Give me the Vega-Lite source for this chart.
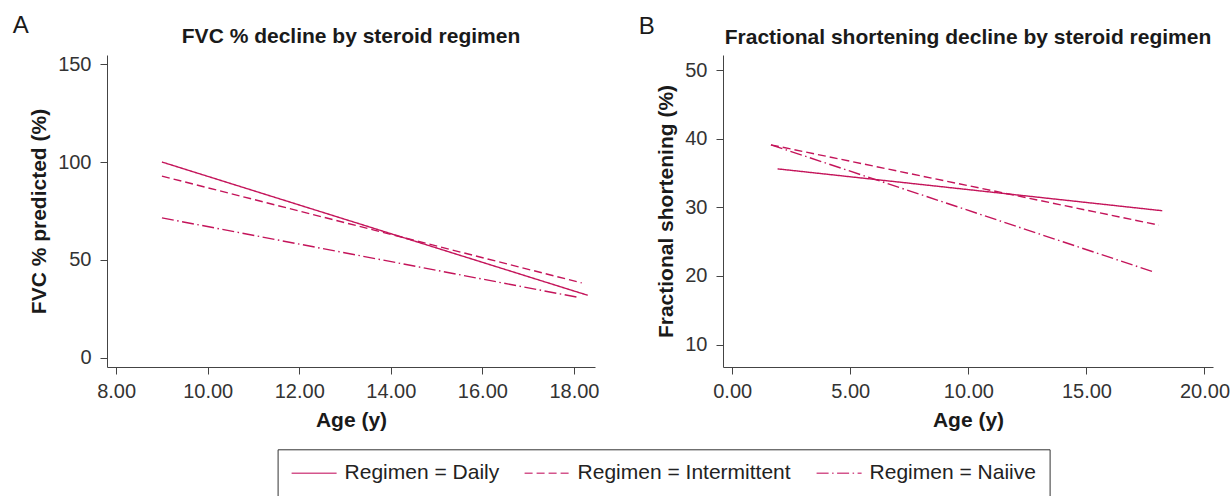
{
  "$schema": "https://vega.github.io/schema/vega-lite/v6.json",
  "background": "white",
  "padding": {"left": 12, "top": 14, "right": 0, "bottom": 0},
  "config": {
    "view": {"stroke": null},
    "font": "Liberation Sans",
    "axis": {
      "labelFont": "Liberation Sans", "labelFontSize": 20, "labelColor": "#333333",
      "titleFont": "Liberation Sans", "titleFontSize": 21, "titleFontWeight": "bold", "titleColor": "#1a1a1a",
      "domainColor": "#444444", "tickColor": "#444444", "tickSize": 7, "labelPadding": 9,
      "grid": false, "labelFlush": false, "labelOverlap": false, "titlePadding": 8
    },
    "axisX": {"titlePadding": 8, "labelPadding": 7},
    "title": {"font": "Liberation Sans", "color": "#1a1a1a"},
    "line": {"color": "#c4145a", "strokeWidth": 1.4}
  },
  "datasets": {
    "fvc": [
      {"age": 9.0, "value": 100.0, "regimen": "Daily"},
      {"age": 18.3, "value": 32.0, "regimen": "Daily"},
      {"age": 9.0, "value": 92.8, "regimen": "Intermittent"},
      {"age": 18.17, "value": 38.3, "regimen": "Intermittent"},
      {"age": 9.0, "value": 71.5, "regimen": "Naiive"},
      {"age": 18.12, "value": 30.8, "regimen": "Naiive"}
    ],
    "fs": [
      {"age": 1.92, "value": 35.6, "regimen": "Daily"},
      {"age": 18.21, "value": 29.5, "regimen": "Daily"},
      {"age": 1.64, "value": 39.1, "regimen": "Intermittent"},
      {"age": 18.07, "value": 27.4, "regimen": "Intermittent"},
      {"age": 1.64, "value": 39.1, "regimen": "Naiive"},
      {"age": 17.83, "value": 20.6, "regimen": "Naiive"}
    ]
  },
  "resolve": {"scale": {"strokeDash": "shared"}, "legend": {"strokeDash": "shared"}},
  "spacing": 39,
  "hconcat": [
    {
      "title": {"text": "A", "anchor": "start", "frame": "bounds", "fontSize": 24, "fontWeight": "normal", "dx": -16, "offset": -12},
      "resolve": {"scale": {"strokeDash": "shared"}, "legend": {"strokeDash": "shared"}},
      "vconcat": [
        {
          "title": {"text": "FVC % decline by steroid regimen", "fontSize": 21, "fontWeight": "bold", "anchor": "middle", "frame": "group", "offset": 7},
          "width": 488, "height": 312,
          "data": {"name": "fvc"},
          "mark": {"type": "line"},
          "encoding": {
            "x": {"field": "age", "type": "quantitative", "title": "Age (y)",
                  "scale": {"domain": [7.8, 18.46], "nice": false, "zero": false},
                  "axis": {"values": [8, 10, 12, 14, 16, 18], "format": ".2f"}},
            "y": {"field": "value", "type": "quantitative", "title": "FVC % predicted (%)",
                  "scale": {"domain": [-4.6, 154.6], "nice": false, "zero": false},
                  "axis": {"values": [0, 50, 100, 150]}},
            "strokeDash": {"field": "regimen", "type": "nominal",
              "scale": {"domain": ["Daily", "Intermittent", "Naiive"], "range": [[1, 0], [8, 4], [12, 3.5, 1.5, 3.5]]},
              "legend": {"title": null, "orient": "none", "legendX": 170.6, "legendY": 394.3, "direction": "horizontal",
                "symbolType": "M-1,0H3.5", "symbolSize": 400, "symbolStrokeWidth": 1.4, "symbolStrokeColor": "#d4558c", "symbolFillColor": "transparent",
                "labelFontSize": 21, "labelFont": "Liberation Sans", "labelColor": "#222222", "labelOffset": 32, "labelLimit": 500,
                "columnPadding": 22, "padding": 13, "strokeColor": "#333333",
                "labelExpr": "'Regimen = ' + datum.label"}}
          }
        }
      ]
    },
    {
      "title": {"text": "B", "anchor": "start", "frame": "bounds", "fontSize": 24, "fontWeight": "normal", "dx": -17, "offset": -12},
      "resolve": {"scale": {"strokeDash": "shared"}, "legend": {"strokeDash": "shared"}},
      "vconcat": [
        {
          "title": {"text": "Fractional shortening decline by steroid regimen", "fontSize": 21, "fontWeight": "bold", "anchor": "middle", "frame": "group", "offset": 7},
          "width": 490, "height": 312,
          "data": {"name": "fs"},
          "mark": {"type": "line"},
          "encoding": {
            "x": {"field": "age", "type": "quantitative", "title": "Age (y)",
                  "scale": {"domain": [-0.39, 20.36], "nice": false, "zero": false},
                  "axis": {"values": [0, 5, 10, 15, 20], "format": ".2f"}},
            "y": {"field": "value", "type": "quantitative", "title": "Fractional shortening (%)",
                  "scale": {"domain": [6.73, 52.19], "nice": false, "zero": false},
                  "axis": {"values": [10, 20, 30, 40, 50]}},
            "strokeDash": {"field": "regimen", "type": "nominal",
              "scale": {"domain": ["Daily", "Intermittent", "Naiive"], "range": [[1, 0], [8, 4], [12, 3.5, 1.5, 3.5]]},
              "legend": {"title": null, "orient": "none", "legendX": 170.6, "legendY": 394.3, "direction": "horizontal",
                "symbolType": "M-1,0H3.5", "symbolSize": 400, "symbolStrokeWidth": 1.4, "symbolStrokeColor": "#d4558c", "symbolFillColor": "transparent",
                "labelFontSize": 21, "labelFont": "Liberation Sans", "labelColor": "#222222", "labelOffset": 32, "labelLimit": 500,
                "columnPadding": 22, "padding": 13, "strokeColor": "#333333",
                "labelExpr": "'Regimen = ' + datum.label"}}
          }
        }
      ]
    }
  ]
}
